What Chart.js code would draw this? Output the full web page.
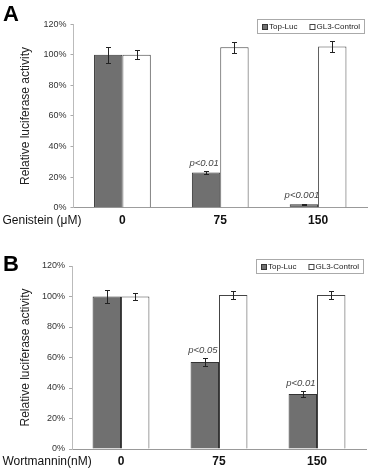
<!DOCTYPE html>
<html><head><meta charset="utf-8">
<script src="https://cdn.jsdelivr.net/npm/chart.js@4.4.1/dist/chart.umd.min.js"></script>
<style>
html,body{margin:0;padding:0;background:#fff;width:369px;height:470px;overflow:hidden}
.p{position:absolute;left:0;width:369px;height:235px}
canvas{display:block}
</style></head><body>
<div class="p" style="top:0"><canvas id="cA" width="369" height="235"></canvas></div>
<div class="p" style="top:235px"><canvas id="cB" width="369" height="235"></canvas></div>
<script>
// ---- data ----
const categories = ['0', '75', '150'];
const seriesNames = ['Top-Luc', 'GL3-Control'];
const yTicks = [0, 20, 40, 60, 80, 100, 120];

const topLucA = [100, 23, 2.2];
const topLucErrA = [5, 1, 0.3];
const gl3A = [100, 105, 105.5];
const gl3ErrA = [3, 3.5, 3.3];
const pLabelsA = ['', 'p<0.01', 'p<0.001'];

const topLucB = [100, 57, 36];
const topLucErrB = [4.3, 2.5, 2];
const gl3B = [100, 101, 101];
const gl3ErrB = [2.2, 2.5, 2.7];
const pLabelsB = ['', 'p<0.05', 'p<0.01'];

const FONT = '"Liberation Sans", Arial, sans-serif';

const decorPlugin = {
  id: 'decor',
  afterDatasetsDraw(chart, args, o) {
    const ctx = chart.ctx, ys = chart.scales.y;
    ctx.save();
    // error bars
    ctx.strokeStyle = '#222';
    ctx.lineWidth = 1;
    chart.data.datasets.forEach((ds, i) => {
      chart.getDatasetMeta(i).data.forEach((el, j) => {
        const v = ds.data[j], e = ds.errors[j];
        const yt = Math.round(ys.getPixelForValue(v + e)) + 0.5;
        const yb = Math.round(ys.getPixelForValue(v - e)) + 0.5;
        const x = Math.round(el.x) + 0.5;
        ctx.beginPath();
        ctx.moveTo(x, yt); ctx.lineTo(x, yb);
        ctx.moveTo(x - 2.5, yt); ctx.lineTo(x + 2.5, yt);
        ctx.moveTo(x - 2.5, yb); ctx.lineTo(x + 2.5, yb);
        ctx.stroke();
      });
    });
    // p-value labels over Top-Luc bars
    const ds0 = chart.data.datasets[0];
    ctx.fillStyle = '#444';
    ctx.font = 'italic 9.5px ' + FONT;
    ctx.textAlign = 'center';
    ctx.textBaseline = 'alphabetic';
    chart.getDatasetMeta(0).data.forEach((el, j) => {
      const t = o.pLabels[j];
      if (!t) return;
      const yt = ys.getPixelForValue(ds0.data[j] + ds0.errors[j]);
      ctx.fillText(t, el.x - 2, yt - 5.5);
    });
    ctx.restore();
  },
  afterDraw(chart, args, o) {
    const ctx = chart.ctx;
    ctx.save();
    // panel letter
    ctx.fillStyle = '#000';
    ctx.font = 'bold 22px ' + FONT;
    ctx.textAlign = 'left';
    ctx.textBaseline = 'alphabetic';
    ctx.fillText(o.letter, 3, o.letterY);
    // x-axis title (left, same line as tick labels)
    ctx.font = '12px ' + FONT;
    ctx.fillStyle = '#111';
    ctx.textBaseline = 'middle';
    ctx.fillText(o.xTitle, 2.5, o.xTitleY);
    // legend
    ctx.font = '8px ' + FONT;
    const items = chart.data.datasets.map(d => ({
      label: d.label, fill: d.backgroundColor, stroke: d.borderColor,
      w: ctx.measureText(d.label).width
    }));
    const padL = 5, sw = 5, gap = 2, itemGap = 12, padR = 4, h = 14;
    let total = padL + padR + itemGap * (items.length - 1);
    items.forEach(it => total += sw + gap + it.w);
    const x0 = Math.round(o.legendRight - total), y0 = o.legendTop;
    ctx.strokeStyle = '#aaa';
    ctx.lineWidth = 1;
    ctx.strokeRect(x0 + 0.5, y0 + 0.5, Math.round(total), h);
    let x = x0 + padL;
    const cy = y0 + h / 2 + 0.5;
    items.forEach(it => {
      ctx.fillStyle = it.fill;
      ctx.fillRect(x + 0.5, Math.round(cy - sw / 2) + 0.5, sw, sw);
      ctx.strokeStyle = it.stroke;
      ctx.strokeRect(x + 0.5, Math.round(cy - sw / 2) + 0.5, sw, sw);
      x += sw + gap;
      ctx.fillStyle = '#222';
      ctx.textBaseline = 'middle';
      ctx.fillText(it.label, x, cy + 0.5);
      x += it.w + itemGap;
    });
    ctx.restore();
  }
};

function makeChart(id, g) {
  return new Chart(document.getElementById(id), {
    type: 'bar',
    data: {
      labels: categories,
      datasets: [
        { label: seriesNames[0], data: g.s1, errors: g.e1,
          backgroundColor: '#707070', borderColor: '#333', borderWidth: 1 },
        { label: seriesNames[1], data: g.s2, errors: g.e2,
          backgroundColor: '#ffffff', borderColor: '#444', borderWidth: 1 }
      ]
    },
    options: {
      responsive: false,
      animation: false,
      devicePixelRatio: 1,
      layout: { padding: { left: 0, right: 369 - g.right, top: g.top, bottom: 0 } },
      datasets: { bar: { categoryPercentage: 0.58, barPercentage: 1.0 } },
      plugins: {
        legend: { display: false },
        tooltip: { enabled: false },
        decor: { letter: g.letter, letterY: g.letterY, xTitle: g.xTitle, xTitleY: g.xTitleY,
                 legendRight: g.legendRight, legendTop: g.legendTop, pLabels: g.pLabels }
      },
      scales: {
        x: {
          grid: { display: false, drawTicks: false },
          border: { display: true, color: '#999' },
          ticks: { color: '#111', font: { family: FONT, size: 12, weight: 'bold' }, padding: g.xPad },
          afterFit: s => { s.height = 235 - g.bottom; }
        },
        y: {
          min: 0, max: 120,
          afterBuildTicks: s => { s.ticks = yTicks.map(v => ({ value: v })); },
          ticks: { color: '#333', font: { family: FONT, size: 9 }, padding: 4,
                   callback: v => v + '%' },
          grid: { drawOnChartArea: false, drawTicks: true, tickLength: 3, color: '#aaa' },
          border: { display: true, color: '#bbb' },
          title: { display: true, text: 'Relative luciferase activity', color: '#222',
                   font: { family: FONT, size: 12 }, padding: { top: 18, bottom: 0 } },
          afterFit: s => { s.width = g.left; }
        }
      }
    },
    plugins: [decorPlugin]
  });
}

makeChart('cA', {
  s1: topLucA, e1: topLucErrA, s2: gl3A, e2: gl3ErrA, pLabels: pLabelsA,
  letter: 'A', letterY: 21, xTitle: 'Genistein (\u03BCM)', xTitleY: 220.7,
  top: 24.3, bottom: 207.7, left: 73.5, right: 367, xPad: 5.8,
  legendRight: 364, legendTop: 19
});
makeChart('cB', {
  s1: topLucB, e1: topLucErrB, s2: gl3B, e2: gl3ErrB, pLabels: pLabelsB,
  letter: 'B', letterY: 36, xTitle: 'Wortmannin(nM)', xTitleY: 226.7,
  top: 31, bottom: 214, left: 72, right: 366, xPad: 5.5,
  legendRight: 363, legendTop: 24
});
</script>
</body></html>
